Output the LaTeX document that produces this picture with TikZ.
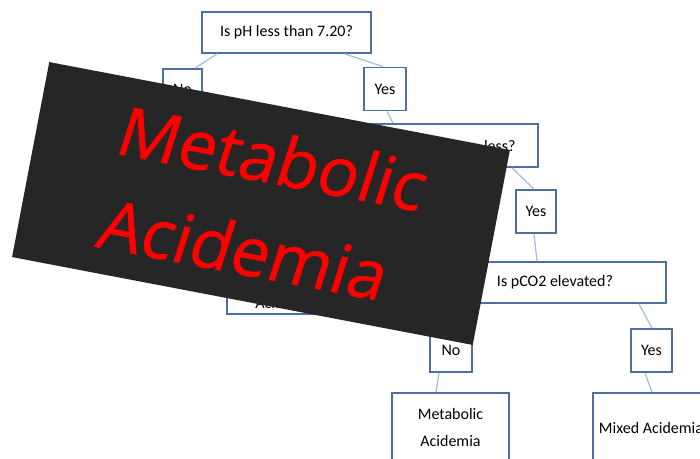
\documentclass[tikz,border=0pt]{standalone}
\usepackage{fontspec}
\setmainfont{Carlito}
\newfontfamily\bannerfont[FakeBold=0.9]{Open Sans}
\usetikzlibrary{calc}
\definecolor{boxline}{RGB}{79,110,160}
\definecolor{linkline}{RGB}{160,188,225}
\definecolor{bannerbg}{RGB}{38,38,38}

\begin{document}
\begin{tikzpicture}[x=0.75pt,y=-0.75pt,
    box/.style={draw=boxline,line width=1.3pt,fill=white,inner sep=0pt,
        align=center,font=\fontsize{12}{20.25}\selectfont},
    question/.style={box,minimum height=30.75pt},
    answer/.style={box,minimum width=31.5pt,minimum height=32.25pt},
    result/.style={box,minimum width=87.75pt,minimum height=51.75pt},
    link/.style={linkline,line width=0.9pt}]
    \clip (0,0) rectangle (700,458);
    \fill[white] (0,0) rectangle (700,458);
    % tree
    \node[question,minimum width=126.75pt] (q1) at (286.5,32.5) {Is pH less than 7.20?};
    \node[answer,minimum width=29.25pt,minimum height=30.75pt] (no1) at (182.5,89.5) {No};
    \node[answer] (yes1) at (385,89) {Yes};
    \node[question,minimum width=129.75pt,minimum height=32.25pt] (q2) at (451.5,145.5) {};
    \node[font=\fontsize{12}{14}\selectfont,anchor=east,inner sep=0pt] (q2txt) at ($(q2.east)+(-23,0)$) {less?};
    \node[answer,minimum width=30pt] (yes2) at (536,211.5) {Yes};
    \node[result,minimum height=42pt] (resp) at (285.5,286) {};
    \node[font=\fontsize{12}{14}\selectfont,inner sep=0pt] (resptxt) at ($(resp.south)+(0,-12)$) {Acidemia};
    \node[question,minimum width=166.5pt] (q3) at (555,282.5) {Is pCO2 elevated?};
    \node[answer] (no3) at (451,350.5) {No};
    \node[answer,minimum width=30.75pt] (yes3) at (651.5,350.5) {Yes};
    \node[result] (metab) at (450.5,427.5) {Metabolic\\Acidemia};
    \node[result,minimum width=87pt] (mixed) at (651,427.5) {Mixed Acidemia};
    \draw[link] ($(q1.south)+(-69.5,0)$) -- ($(no1.north)+(12.5,0)$);
    \draw[link] ($(q1.south)+(58.5,0)$) -- ($(yes1.north)+(-2,0)$);
    \draw[link] ($(yes1.south)+(2,0)$) -- ($(q2.north)+(-58.5,0)$);
    \draw[link] ($(q2.south)+(60.5,0)$) -- ($(yes2.north)+(-2,0)$);
    \draw[link] ($(yes2.south)+(-2,0)$) -- ($(q3.north)+(-18,0)$);
    \draw[link] ($(q3.south)+(-84,0)$) -- ($(no3.north)+(-1,0)$);
    \draw[link] ($(q3.south)+(84,0)$) -- ($(yes3.north)+(0.5,0)$);
    \draw[link] ($(no3.south)+(-12,0)$) -- ($(metab.north)+(-14.5,0)$);
    \draw[link] ($(yes3.south)+(-6.5,0)$) -- ($(mixed.north)+(1,0)$);
    % banner on top
    \node[fill=bannerbg,rotate=-10.8,minimum width=351.75pt,minimum height=148.9pt,inner sep=0pt] (banner) at (261,203.5) {};
    \node[text=red,rotate=-10.8,xslant=0.12,align=center,inner sep=0pt,
        font=\bannerfont\fontsize{51}{71.25}\selectfont] (bannertxt) at ($(banner.center)+(-2,0)$) {Metabolic\\Acidemia};
\end{tikzpicture}
\end{document}
